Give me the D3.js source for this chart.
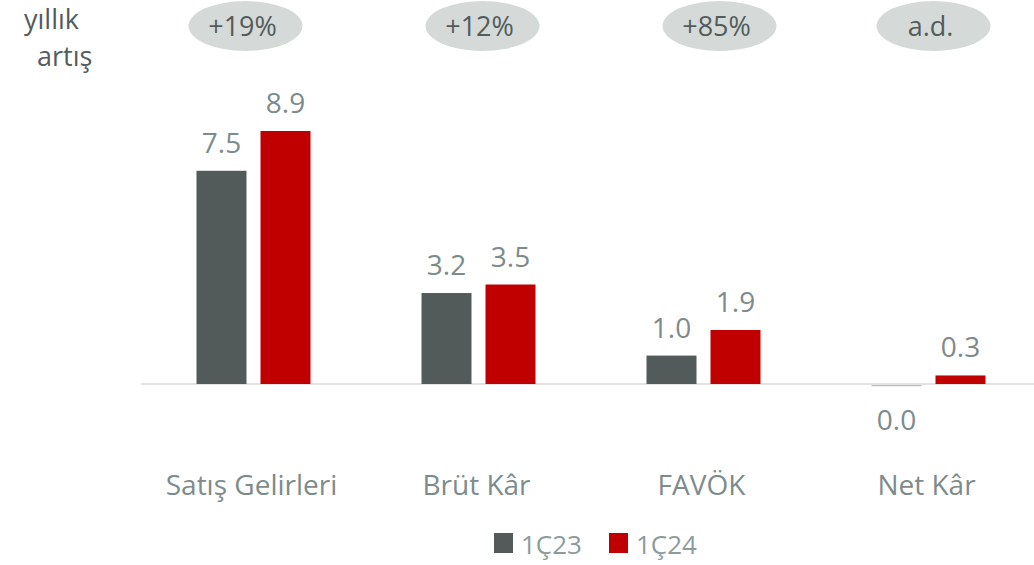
<!DOCTYPE html>
<html>
<head>
<meta charset="utf-8">
<script src="https://cdn.jsdelivr.net/npm/d3@7"></script>
<style>
  body { margin: 0; background: #fff; }
  svg { display: block; font-family: 'Open Sans', sans-serif; }
</style>
</head>
<body>
<div class="chart"></div>
<script>
'use strict'
const categories = ['Satış Gelirleri', 'Brüt Kâr', 'FAVÖK', 'Net Kâr']
const series = ['1Ç23', '1Ç24']
const values1Q23 = [7.5, 3.2, 1.0, -0.04]
const values1Q24 = [8.9, 3.5, 1.9, 0.3]
const labels1Q23 = ['7.5', '3.2', '1.0', '0.0']
const labels1Q24 = ['8.9', '3.5', '1.9', '0.3']
const growth = ['+19%', '+12%', '+85%', 'a.d.']

// badge shifts, as placed on the slide
const badgeShift = [-8, 4, 16, 5]
const colors = ['#525a5a', '#c00000']

const width = 1034
const height = 565
const baseY = 384

const rows = categories.map(function (c, i) {
  return { name: c, vals: [values1Q23[i], values1Q24[i]], labels: [labels1Q23[i], labels1Q24[i]], growth: growth[i] }
})

const svg = d3.select('.chart').append('svg')
  .attr('width', width)
  .attr('height', height)

const x0 = d3.scaleBand().domain(categories).range([141, 1041])
const x1 = d3.scaleBand().domain(series).range([0, 114]).paddingInner(14 / 64)
const y = d3.scaleLinear().domain([0, 8.9]).range([baseY, 131])

// axis line
svg.append('line')
  .attr('x1', 141).attr('x2', width)
  .attr('y1', baseY).attr('y2', baseY)
  .attr('stroke', '#d9d9d9')
  .attr('stroke-width', 1.5)

const groups = svg.selectAll('.group')
  .data(rows)
  .enter().append('g')
  .attr('class', 'group')
  .attr('transform', function (d) { return 'translate(' + (x0(d.name) + x0.bandwidth() / 2 - 57) + ',0)' })

const bars = groups.selectAll('.bar')
  .data(function (d) { return d.vals.map(function (v, k) { return { s: series[k], v: v, label: d.labels[k], k: k } }) })
  .enter()

bars.append('rect')
  .attr('class', 'bar')
  .attr('x', function (d) { return x1(d.s) })
  .attr('width', x1.bandwidth())
  .attr('y', function (d) { return d.v >= 0 ? y(d.v) : baseY + 1 })
  .attr('height', function (d) { return Math.max(1.2, Math.abs(y(d.v) - y(0))) })
  .attr('fill', function (d) { return d.v >= 0 ? colors[d.k] : '#b4bcbc' })

bars.append('text')
  .attr('x', function (d) { return x1(d.s) + x1.bandwidth() / 2 })
  .attr('y', function (d) { return d.v >= 0 ? y(d.v) - 18 : baseY + 46 })
  .attr('text-anchor', 'middle')
  .attr('font-size', 28)
  .attr('fill', '#7d8b8b')
  .text(function (d) { return d.label })

// category names
svg.selectAll('.cat')
  .data(categories)
  .enter().append('text')
  .attr('class', 'cat')
  .attr('x', function (d) { return x0(d) + x0.bandwidth() / 2 - 2 })
  .attr('y', 495)
  .attr('text-anchor', 'middle')
  .attr('font-size', 28)
  .attr('fill', '#7d8b8b')
  .text(function (d) { return d })

// yearly growth badges
const badges = svg.selectAll('.badge')
  .data(rows)
  .enter().append('g')
  .attr('class', 'badge')
  .attr('transform', function (d, i) { return 'translate(' + (x0(d.name) + x0.bandwidth() / 2 + badgeShift[i]) + ',26)' })

badges.append('ellipse')
  .attr('rx', 57)
  .attr('ry', 25)
  .attr('fill', '#d5dad9')

badges.append('text')
  .attr('y', 10)
  .attr('x', -3)
  .attr('text-anchor', 'middle')
  .attr('font-size', 27)
  .attr('fill', '#535c5c')
  .text(function (d) { return d.growth })

svg.append('text').attr('x', 24).attr('y', 29)
  .attr('font-size', 27).attr('fill', '#535c5c').text('yıllık')
svg.append('text').attr('x', 37).attr('y', 66)
  .attr('font-size', 27).attr('fill', '#535c5c').text('artış')

// legend
const legend = svg.selectAll('.legend')
  .data(series)
  .enter().append('g')
  .attr('class', 'legend')
  .attr('transform', function (d, i) { return 'translate(' + (494 + i * 115) + ',533)' })

legend.append('rect')
  .attr('width', 19)
  .attr('height', 20)
  .attr('fill', function (d, i) { return colors[i] })

legend.append('text')
  .attr('x', 27)
  .attr('y', 21)
  .attr('font-size', 26)
  .attr('fill', '#8d9b9b')
  .text(function (d) { return d })
</script>
</body>
</html>
